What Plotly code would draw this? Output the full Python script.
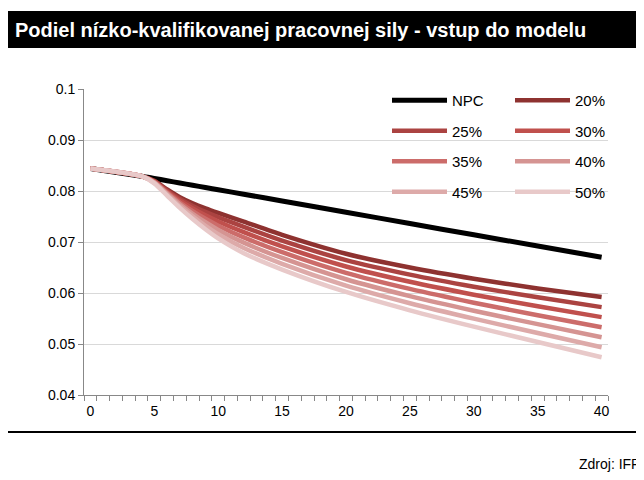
import plotly.graph_objects as go

years = [0, 4, 5, 6, 7, 8, 9, 10, 12, 15, 20, 25, 30, 35, 40]
npc = [0.0844, 0.0829, 0.08246, 0.08202, 0.08157, 0.08113, 0.08069, 0.08025, 0.07937, 0.07804, 0.07583, 0.07362, 0.07141, 0.06921, 0.0670]
s20 = [0.0844, 0.0829, 0.0820, 0.0803, 0.0788, 0.0776, 0.0766, 0.0757, 0.0740, 0.0714, 0.0677, 0.0650, 0.0628, 0.0609, 0.0592]
s25 = [0.0844, 0.0829, 0.08192, 0.0801, 0.07845, 0.07708, 0.07592, 0.07487, 0.07297, 0.07027, 0.06645, 0.0636, 0.06123, 0.05915, 0.05723]
s30 = [0.0844, 0.0829, 0.08183, 0.0799, 0.0781, 0.07657, 0.07523, 0.07403, 0.07193, 0.06913, 0.0652, 0.0622, 0.05967, 0.0574, 0.05527]
s35 = [0.0844, 0.0829, 0.08175, 0.0797, 0.07775, 0.07605, 0.07455, 0.0732, 0.0709, 0.0680, 0.06395, 0.0608, 0.0581, 0.05565, 0.0533]
s40 = [0.0844, 0.0829, 0.08167, 0.0795, 0.0774, 0.07553, 0.07387, 0.07237, 0.06987, 0.06687, 0.0627, 0.0594, 0.05653, 0.0539, 0.05133]
s45 = [0.0844, 0.0829, 0.08158, 0.0793, 0.07705, 0.07502, 0.07318, 0.07153, 0.06883, 0.06573, 0.06145, 0.0580, 0.05497, 0.05215, 0.04937]
s50 = [0.0844, 0.0829, 0.0815, 0.0791, 0.0767, 0.0745, 0.0725, 0.0707, 0.0678, 0.0646, 0.0602, 0.0566, 0.0534, 0.0504, 0.0474]

series_names = ["NPC", "20%", "25%", "30%", "35%", "40%", "45%", "50%"]
series_values = [npc, s20, s25, s30, s35, s40, s45, s50]
colors = ["#000000", "#8e3230", "#ab4341", "#c0504d", "#cc6c6a", "#d59492", "#ddaaa9", "#e8c9c9"]
legend_of = ["legend", "legend2", "legend", "legend2", "legend", "legend2", "legend", "legend2"]

x_tickvals = [0, 5, 10, 15, 20, 25, 30, 35, 40]
x_ticktext = ["0", "5", "10", "15", "20", "25", "30", "35", "40"]
y_tickvals = [0.04, 0.05, 0.06, 0.07, 0.08, 0.09, 0.1]
y_ticktext = ["0.04", "0.05", "0.06", "0.07", "0.08", "0.09", "0.1"]

title_text = "Podiel nízko-kvalifikovanej pracovnej sily - vstup do modelu"
source_text = "Zdroj: IFP"

FONT = "Liberation Sans, Arial, sans-serif"

fig = go.Figure()
for name, vals, col, lg in zip(series_names, series_values, colors, legend_of):
    fig.add_trace(go.Scatter(
        x=years, y=vals, name=name, mode="lines",
        line=dict(color=col, width=5 if name == "NPC" else 4.5, shape="spline", smoothing=0.7),
        legend=lg, legendgroup=name,
    ))

# figure pixel coordinates (page body adds an 8px offset on screen)
L, R, T, B = 76, 44, 81, 93
W, H = 644, 480
pw = W - L - R
ph = H - T - B

def px(xp):
    return (xp - L) / pw

def py(yp):
    return (H - B - yp) / ph

legend_common = dict(
    font=dict(family=FONT, size=15, color="#000000"),
    bgcolor="rgba(0,0,0,0)", borderwidth=0, tracegroupgap=8,
    itemwidth=55, yanchor="top", xanchor="left", traceorder="grouped",
)

fig.update_layout(
    width=W, height=H,
    margin=dict(l=L, r=R, t=T, b=B),
    paper_bgcolor="white", plot_bgcolor="white",
    font=dict(family=FONT, size=14, color="#000000"),
    showlegend=True,
    legend=dict(x=px(379), y=py(76), **legend_common),
    legend2=dict(x=px(502), y=py(76), **legend_common),
    xaxis=dict(
        range=[-0.5, 40.5], tickvals=x_tickvals, ticktext=x_ticktext,
        ticks="", showgrid=False, zeroline=False,
        showline=True, linecolor="#888888", linewidth=1,
        tickfont=dict(family=FONT, size=14), ticklabelstandoff=3,
        minor=dict(tick0=-0.5, dtick=1, ticks="outside", ticklen=5, tickcolor="#888888", showgrid=False),
    ),
    yaxis=dict(
        range=[0.04, 0.1], tickvals=y_tickvals, ticktext=y_ticktext,
        ticks="outside", ticklen=5, tickcolor="#888888",
        showgrid=True, gridcolor="#d9d9d9", gridwidth=1, zeroline=False,
        showline=True, linecolor="#888888", linewidth=1,
        tickfont=dict(family=FONT, size=14),
    ),
    shapes=[
        dict(type="rect", xref="paper", yref="paper", x0=px(0), x1=px(650), y0=py(40), y1=py(3),
             fillcolor="#000000", line=dict(width=0), layer="above"),
        dict(type="line", xref="paper", yref="paper", x0=px(0), x1=px(650), y0=py(424), y1=py(424),
             line=dict(color="#000000", width=2)),
    ],
    annotations=[
        dict(text="<b>" + title_text + "</b>", xref="paper", yref="paper", x=px(5), y=py(22),
             xanchor="left", yanchor="middle", showarrow=False,
             font=dict(family=FONT, size=20, color="#ffffff")),
        dict(text=source_text, xref="paper", yref="paper", x=px(634), y=py(456),
             xanchor="right", yanchor="middle", showarrow=False,
             font=dict(family=FONT, size=14, color="#000000")),
    ],
)

fig.write_html("out.html")
